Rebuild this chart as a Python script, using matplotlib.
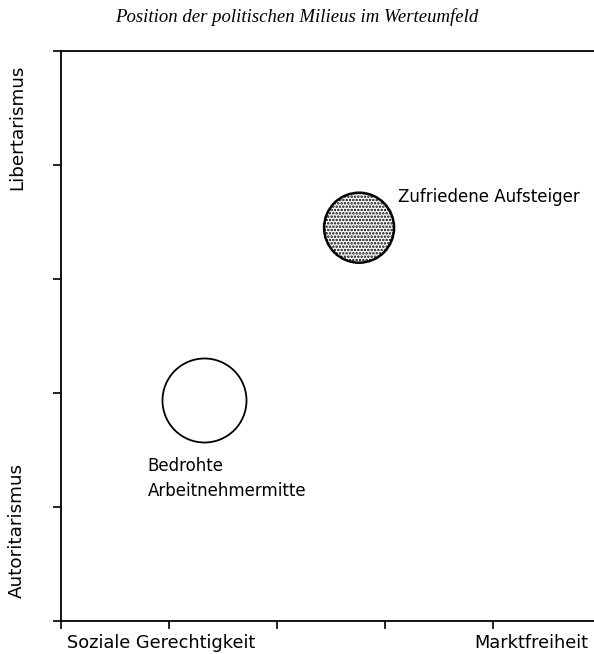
import matplotlib.pyplot as plt

# milieu positions in the value space (x: social justice -> market freedom, y: authoritarian -> libertarian)
milieus = ['Zufriedene Aufsteiger', 'Bedrohte\nArbeitnehmermitte']
milieu_x = [2.76, 1.32]
milieu_y = [3.45, 1.94]
milieu_size = [2540, 3660]
x_ticks = [0, 1, 2, 3, 4, 5]
y_ticks = [0, 1, 2, 3, 4, 5]


def main():
    plt.rcParams['font.family'] = ['DejaVu Sans']
    plt.rcParams['hatch.linewidth'] = 1.2

    fig = plt.figure(figsize=(5.94, 6.54), dpi=100)
    ax = fig.add_axes([61 / 594, 33 / 654, 540 / 594, 570 / 654])

    # shaded circle for the upper milieu, empty one for the lower
    ax.scatter(milieu_x[0], milieu_y[0], s=milieu_size[0], facecolor='white',
               edgecolor='black', linewidth=1.8, hatch='.....', zorder=3)
    ax.scatter(milieu_x[1], milieu_y[1], s=milieu_size[1], facecolor='white',
               edgecolor='black', linewidth=1.3, zorder=3)

    ax.text(3.12, 3.72, milieus[0], fontsize=12, ha='left', va='center')
    ax.text(0.80, 1.25, milieus[1], fontsize=12, ha='left', va='center',
            linespacing=1.45)

    ax.set_xlim(0, 5)
    ax.set_ylim(0, 5)
    ax.set_xticks(x_ticks)
    ax.set_yticks(y_ticks)
    ax.set_xticklabels([])
    ax.set_yticklabels([])
    ax.tick_params(direction='out', length=6, width=1.2)
    for side in ['left', 'bottom', 'top']:
        ax.spines[side].set_linewidth(1.3)
    ax.spines['right'].set_visible(False)

    # axis pole labels
    ax.text(0.06, -0.19, 'Soziale Gerechtigkeit', fontsize=12.8, ha='left', va='center')
    ax.text(3.83, -0.19, 'Marktfreiheit', fontsize=12.8, ha='left', va='center')
    ax.text(-0.405, 4.33, 'Libertarismus', fontsize=13.2, rotation=90,
            ha='center', va='center')
    ax.text(-0.405, 0.79, 'Autoritarismus', fontsize=13.2, rotation=90,
            ha='center', va='center')

    fig.text(0.5, 1 - 17 / 654, 'Position der politischen Milieus im Werteumfeld',
             family='Liberation Serif', style='italic', fontsize=13.5,
             ha='center', va='center')

    fig.savefig('out.png', dpi=100)


if __name__ == "__main__":
    main()
